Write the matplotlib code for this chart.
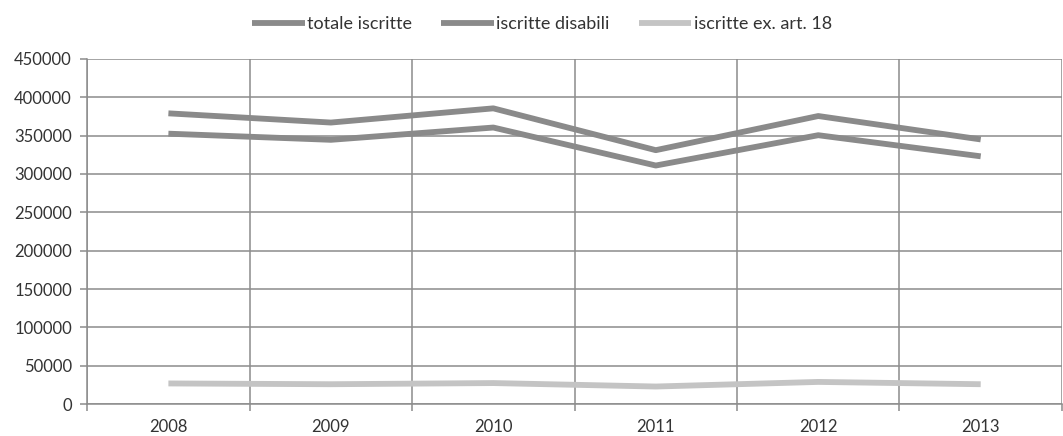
import matplotlib.pyplot as plt
import numpy as np

anni = ['2008', '2009', '2010', '2011', '2012', '2013']
totale = [379000, 367000, 385500, 331000, 375500, 345000]
disabili = [352500, 344500, 360500, 311000, 350500, 323000]
art18 = [27000, 26000, 27500, 23000, 29000, 26000]

plt.rcParams['font.family'] = ['Lato', 'DejaVu Sans']

fig = plt.figure(figsize=(10.63, 4.36), dpi=100)
ax = fig.add_axes([0.082, 0.073, 0.917, 0.792])

x = np.arange(len(anni))
ax.plot(x, totale, color='#8a8a8a', lw=4.2, solid_capstyle='butt', label='totale iscritte', zorder=3)
ax.plot(x, disabili, color='#8a8a8a', lw=4.2, solid_capstyle='butt', label='iscritte disabili', zorder=3)
ax.plot(x, art18, color='#c4c4c4', lw=4.2, solid_capstyle='butt', label='iscritte ex. art. 18', zorder=3)

ax.set_xlim(-0.5, len(anni) - 0.5)
ax.set_ylim(0, 450000)
ax.set_yticks(np.arange(0, 450001, 50000))
ax.set_xticks(x)
ax.set_xticklabels(anni)
ax.set_xticks(np.arange(-0.5, len(anni), 1.0), minor=True)

ax.grid(True, axis='y', which='major', color='#8c8c8c', lw=1.1)
ax.grid(True, axis='x', which='minor', color='#8c8c8c', lw=1.1)
ax.tick_params(axis='x', which='major', length=0, pad=11, labelsize=12, labelcolor='#333333')
ax.tick_params(axis='x', which='minor', length=5, color='#8c8c8c', width=1.1)
ax.tick_params(axis='y', length=5, color='#8c8c8c', width=1.1, pad=6,
               labelsize=12, labelcolor='#333333')

for s in ['top', 'right']:
    ax.spines[s].set_visible(False)
for s in ['left', 'bottom']:
    ax.spines[s].set_color('#8c8c8c')
    ax.spines[s].set_linewidth(1.1)

fig.legend(loc='upper center', bbox_to_anchor=(0.51, 1.0), ncol=3, frameon=False,
           fontsize=13, handlelength=2.9, handletextpad=0.15, columnspacing=1.6,
           labelcolor='#333333')

fig.savefig('out.png', dpi=100)
